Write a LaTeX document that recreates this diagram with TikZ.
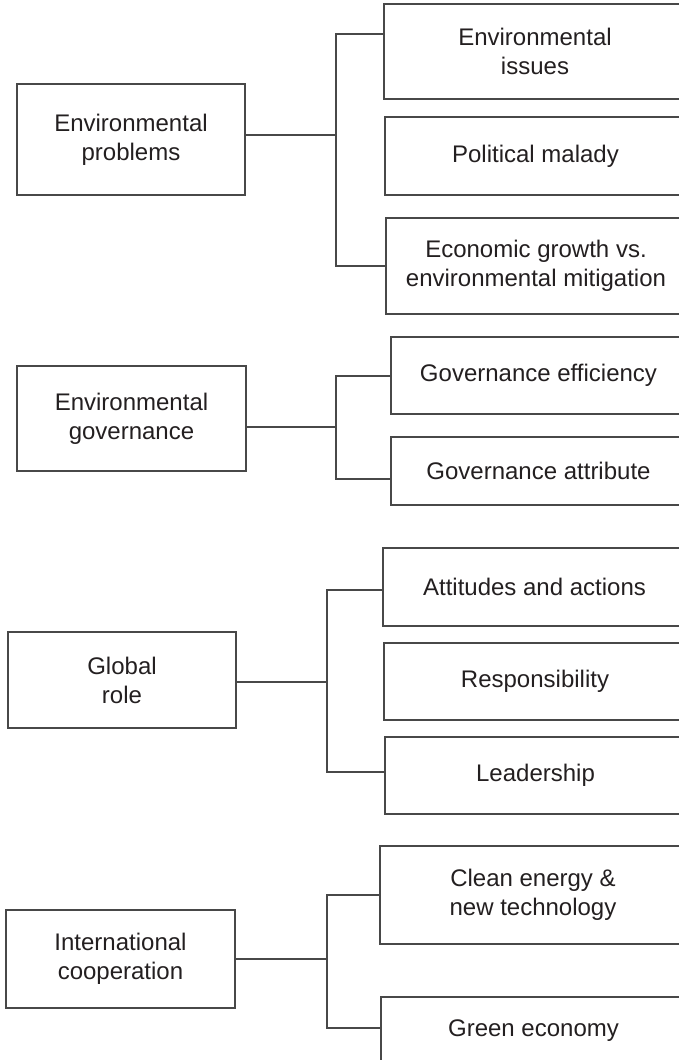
\documentclass[tikz,border=0pt]{standalone}
\usepackage{fontspec}
\setmainfont{Liberation Sans}
\usepackage{tikz}

\definecolor{inkgray}{HTML}{231F20}
\definecolor{rulegray}{HTML}{484848}

\begin{document}
\begin{tikzpicture}[x=1pt,y=-1pt]
         \tikzset{every node/.style={font=\fontsize{24}{29}\selectfont,text=inkgray,align=center}}
         \tikzset{topic/.style={draw=rulegray,line width=1.1pt,inner sep=0pt,outer sep=0pt}}
         \tikzset{wire/.style={draw=rulegray,line width=1.1pt}}
         \useasboundingbox (0,0) rectangle (678,1060);
         % environmental problems
         \node[topic,minimum width=228,minimum height=111] (probl) at (131,139.5) {Environmental\\problems};
         \node[topic,minimum width=302,minimum height=95] (issues) at (535,51.5) {Environmental\\issues};
         \node[topic,minimum width=301,minimum height=78] (malady) at (535.5,156) {Political malady};
         \node[topic,minimum width=300,minimum height=96] (growth) at (536,266) {Economic growth vs.\\environmental mitigation};
         \coordinate (s1) at (336,135);
         \coordinate (t1) at (336,34);
         \coordinate (u1) at (336,266);
         \draw[wire] (probl.east |- s1) -- (s1);
         \draw[wire] (issues.west |- t1) -- (t1) -- (u1) -- (growth.west |- u1);
         % environmental governance
         \node[topic,minimum width=229,minimum height=105] (gov) at (131.5,418.5) {Environmental\\governance};
         \node[topic,minimum width=295,minimum height=77] (effic) at (538.5,375.5) {Governance efficiency};
         \node[topic,minimum width=295,minimum height=68] (attrib) at (538.5,471) {Governance attribute};
         \coordinate (s2) at (336,427);
         \coordinate (t2) at (336,376);
         \coordinate (u2) at (336,479);
         \draw[wire] (gov.east |- s2) -- (s2);
         \draw[wire] (effic.west |- t2) -- (t2) -- (u2) -- (attrib.west |- u2);
         % global role
         \node[topic,minimum width=228,minimum height=96] (grole) at (122,680) {Global\\role};
         \node[topic,minimum width=303,minimum height=78] (attit) at (534.5,587) {Attitudes and actions};
         \node[topic,minimum width=302,minimum height=77] (resp) at (535,681.5) {Responsibility};
         \node[topic,minimum width=301,minimum height=77] (lead) at (535.5,775.5) {Leadership};
         \coordinate (s3) at (327,682);
         \coordinate (t3) at (327,590);
         \coordinate (u3) at (327,772);
         \draw[wire] (grole.east |- s3) -- (s3);
         \draw[wire] (attit.west |- t3) -- (t3) -- (u3) -- (lead.west |- u3);
         % international cooperation
         \node[topic,minimum width=229,minimum height=98] (coop) at (120.5,959) {International\\cooperation};
         \node[topic,minimum width=306,minimum height=98] (clean) at (533,895) {Clean energy \&\\new technology};
         \node[topic,minimum width=305,minimum height=67] (green) at (533.5,1030.5) {Green economy};
         \coordinate (s4) at (327,959);
         \coordinate (t4) at (327,895);
         \coordinate (u4) at (327,1028);
         \draw[wire] (coop.east |- s4) -- (s4);
         \draw[wire] (clean.west |- t4) -- (t4) -- (u4) -- (green.west |- u4);
\end{tikzpicture}
\end{document}
